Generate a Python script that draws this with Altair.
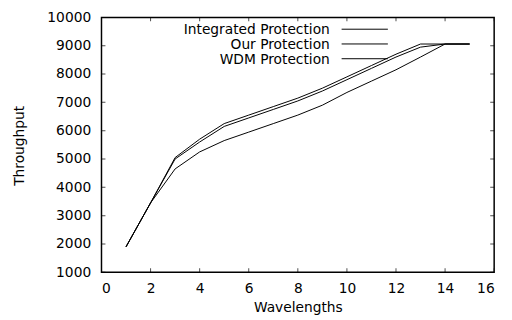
import altair as alt
import pandas as pd

wavelengths = [1, 2, 3, 4, 5, 6, 7, 8, 9, 10, 11, 12, 13, 14, 15]
integrated = [1900, 3450, 5050, 5700, 6250, 6550, 6850, 7150, 7500, 7900, 8300, 8700, 9060, 9060, 9060]
ours = [1900, 3450, 5000, 5600, 6150, 6450, 6750, 7050, 7400, 7800, 8200, 8600, 8950, 9060, 9060]
wdm = [1900, 3450, 4650, 5250, 5650, 5950, 6250, 6550, 6900, 7350, 7750, 8150, 8600, 9060, 9060]
series_names = ["Integrated Protection", "Our Protection", "WDM Protection"]
x_ticks = [0, 2, 4, 6, 8, 10, 12, 14, 16]
y_ticks = [1000, 2000, 3000, 4000, 5000, 6000, 7000, 8000, 9000, 10000]

W, H = 399, 259
FONT = "DejaVu Sans"

rows = []
for name, vals in zip(series_names, [integrated, ours, wdm]):
    for x, y in zip(wavelengths, vals):
        rows.append({"x": x, "y": y, "series": name})
df = pd.DataFrame(rows)

xs = alt.Scale(domain=[0, 16], nice=False, zero=False)
ys = alt.Scale(domain=[1000, 10000], nice=False, zero=False)

x_axis = alt.Axis(values=x_ticks, title="Wavelengths", ticks=False, domain=False,
                  grid=False, labelPadding=10, labelFont=FONT, labelFontSize=14,
                  labelColor="black", labelOverlap=False, format="d",
                  titleFont=FONT, titleFontSize=14,
                  titleFontWeight="normal", titleColor="black",
                  titleY=36, titleBaseline="middle")
y_axis = alt.Axis(values=y_ticks, title="Throughput", ticks=False, domain=False,
                  grid=False, labelPadding=11, labelFont=FONT, labelFontSize=14,
                  labelColor="black", labelOverlap=False, format="d",
                  titleFont=FONT, titleFontSize=14,
                  titleFontWeight="normal", titleColor="black",
                  titleX=-83, titleY=130, titleAngle=270,
                  titleAlign="center", titleBaseline="middle")

lines = alt.Chart(df).mark_line(color="black", strokeWidth=1).encode(
    x=alt.X("x:Q", scale=xs, axis=x_axis, title="Wavelengths"),
    y=alt.Y("y:Q", scale=ys, axis=y_axis, title="Throughput"),
    detail="series:N",
)

xt = pd.DataFrame({"t": x_ticks})
yt = pd.DataFrame({"t": y_ticks})
tick_b = alt.Chart(xt).mark_tick(color="black", size=8, thickness=1, clip=True).encode(
    x=alt.X("t:Q", scale=xs, axis=x_axis, title="Wavelengths"), y=alt.value(H))
tick_t = alt.Chart(xt).mark_tick(color="black", size=8, thickness=1, clip=True).encode(
    x=alt.X("t:Q", scale=xs, axis=x_axis, title="Wavelengths"), y=alt.value(0))
tick_l = alt.Chart(yt).mark_tick(color="black", size=8, thickness=1, clip=True).encode(
    y=alt.Y("t:Q", scale=ys, axis=y_axis, title="Throughput"), x=alt.value(0))
tick_r = alt.Chart(yt).mark_tick(color="black", size=8, thickness=1, clip=True).encode(
    y=alt.Y("t:Q", scale=ys, axis=y_axis, title="Throughput"), x=alt.value(W))

leg_y = [13, 28, 43]
legend_layers = []
for name, ly in zip(series_names, leg_y):
    d = pd.DataFrame({"label": [name]})
    legend_layers.append(
        alt.Chart(d).mark_text(align="right", baseline="middle", font=FONT, fontSize=14,
                               color="black").encode(
            text="label:N", x=alt.value(232), y=alt.value(ly)))
    legend_layers.append(
        alt.Chart(d).mark_rule(color="black", strokeWidth=1).encode(
            x=alt.value(244), x2=alt.value(291), y=alt.value(ly - 1)))

chart = alt.layer(lines, tick_b, tick_t, tick_l, tick_r, *legend_layers).properties(
    width=W, height=H,
    background="white",
    autosize=alt.AutoSizeParams(type="none"),
    padding={"left": 95, "top": 7, "right": 10, "bottom": 50},
).configure_view(stroke="black", strokeWidth=1.5, strokeOpacity=1).configure_axis(
    labelOverlap=False
)

chart.save("out.html", embed_options={"renderer": "svg", "actions": False})
